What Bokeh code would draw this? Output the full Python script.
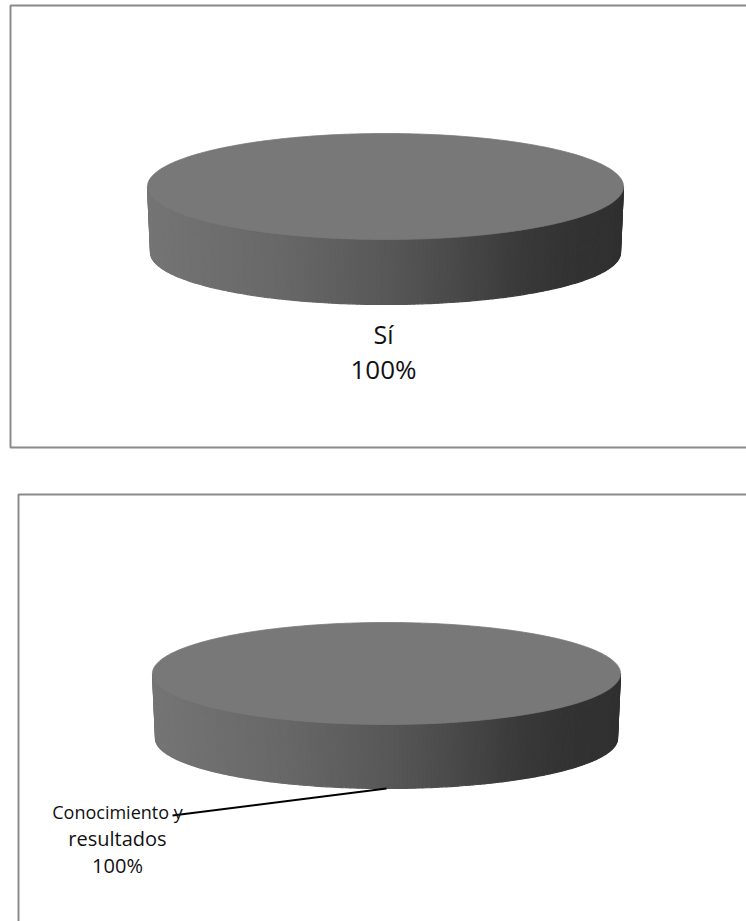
import textwrap
import numpy as np
from bokeh.plotting import figure
from bokeh.models import Range1d
from bokeh.core.properties import value
from bokeh.embed import file_html
from bokeh.resources import INLINE

# Upper chart: one answer takes the whole pie
chart1_labels = ["Sí"]
chart1_values = [100]

# Lower chart: one area takes the whole pie
chart2_labels = ["Conocimiento y resultados"]
chart2_values = [100]

W, H = 746, 921
FONT = "Open Sans"
FRAME_COLOR = "#8a8a8a"
TOP_COLOR = "#787878"

# horizontal shading of the pie's rim, from the lit left side to the dark right side
SIDE_POS = [0.0, 0.10, 0.28, 0.50, 0.66, 0.78, 0.88, 1.0]
SIDE_GRAY = [0x75, 0x70, 0x68, 0x58, 0x48, 0x3A, 0x33, 0x30]


def gray(level):
    g = int(round(level))
    return "#%02x%02x%02x" % (g, g, g)


p = figure(width=W, height=H, x_range=Range1d(0, W), y_range=Range1d(H, 0),
           output_backend="svg", toolbar_location=None, min_border=0,
           x_axis_location=None, y_axis_location=None,
           background_fill_color="white", border_fill_color="white",
           outline_line_color=None)
p.grid.visible = False

# chart frames (their right and lower edges run past the page)
p.multi_line(xs=[[W + 5, 10, 10, W + 5], [W + 5, 18, 18]],
             ys=[[5, 5, 447, 447], [494, 494, H + 5]],
             line_color=FRAME_COLOR, line_width=2)


def pie3d(p, labels, values, cx, cy, a, b, depth, label_xy, label_sizes,
          line_gap, leader=False, wrap=30):
    total = float(sum(values))
    a2, b2 = a - 3, b - 1          # rim base, slightly narrower (perspective)
    cy2 = cy + depth
    start = np.pi / 2              # first slice starts at 12 o'clock, clockwise
    for lab, v in zip(labels, values):
        sweep = v / total * 2 * np.pi
        t0, t1 = start, start - sweep

        # front rim: visible part of the slice between 9 and 3 o'clock (front)
        lo, hi = max(min(t0, t1), -np.pi), min(max(t0, t1), 0.0)
        if hi > lo:
            th = np.linspace(lo, hi, 181)
            xs, ys, cols = [], [], []
            for k in range(len(th) - 1):
                ta, tb = th[k], th[k + 1]
                qx = [cx + a * np.cos(ta), cx + a * np.cos(tb),
                      cx + a2 * np.cos(tb), cx + a2 * np.cos(ta)]
                qy = [cy - b * np.sin(ta), cy - b * np.sin(tb),
                      cy2 - b2 * np.sin(tb), cy2 - b2 * np.sin(ta)]
                xs.append(qx)
                ys.append(qy)
                u = (np.mean(qx) - (cx - a)) / (2 * a)
                cols.append(gray(np.interp(u, SIDE_POS, SIDE_GRAY)))
            p.patches(xs=xs, ys=ys, fill_color=cols, line_color=cols,
                      line_width=1.2)

        # top face of the slice
        th = np.linspace(t0, t1, 361)
        fx = list(cx + a * np.cos(th))
        fy = list(cy - b * np.sin(th))
        if sweep < 2 * np.pi - 1e-9:
            fx.append(cx)
            fy.append(cy)
        p.patch(x=fx, y=fy, fill_color=TOP_COLOR, line_color=TOP_COLOR,
                line_width=0.8)

        # label with percentage
        mid = start - sweep / 2
        lx, ly = label_xy
        lines = textwrap.wrap(lab, wrap) + ["%d%%" % round(v / total * 100)]
        if leader:
            ax = cx + a2 * np.cos(mid)
            ay = cy2 - b2 * np.sin(mid)
            p.line(x=[ax, lx + 55], y=[ay, ly + 4], line_color="black",
                   line_width=2)
        for i, txt in enumerate(lines):
            p.text(x=[lx], y=[ly + i * line_gap], text=[txt],
                   text_align="center", text_baseline="middle",
                   text_font=value(FONT),
                   text_font_size="%dpx" % label_sizes[i],
                   text_color="#111111")
        start = t1


pie3d(p, chart1_labels, chart1_values, cx=385, cy=186, a=238, b=53, depth=66,
      label_xy=(383, 333), label_sizes=[25, 26], line_gap=35)

pie3d(p, chart2_labels, chart2_values, cx=386, cy=673, a=234, b=51, depth=65,
      label_xy=(117, 811), label_sizes=[18, 20, 20], line_gap=27,
      leader=True, wrap=14)

open("out.html", "w").write(file_html(p, INLINE))
